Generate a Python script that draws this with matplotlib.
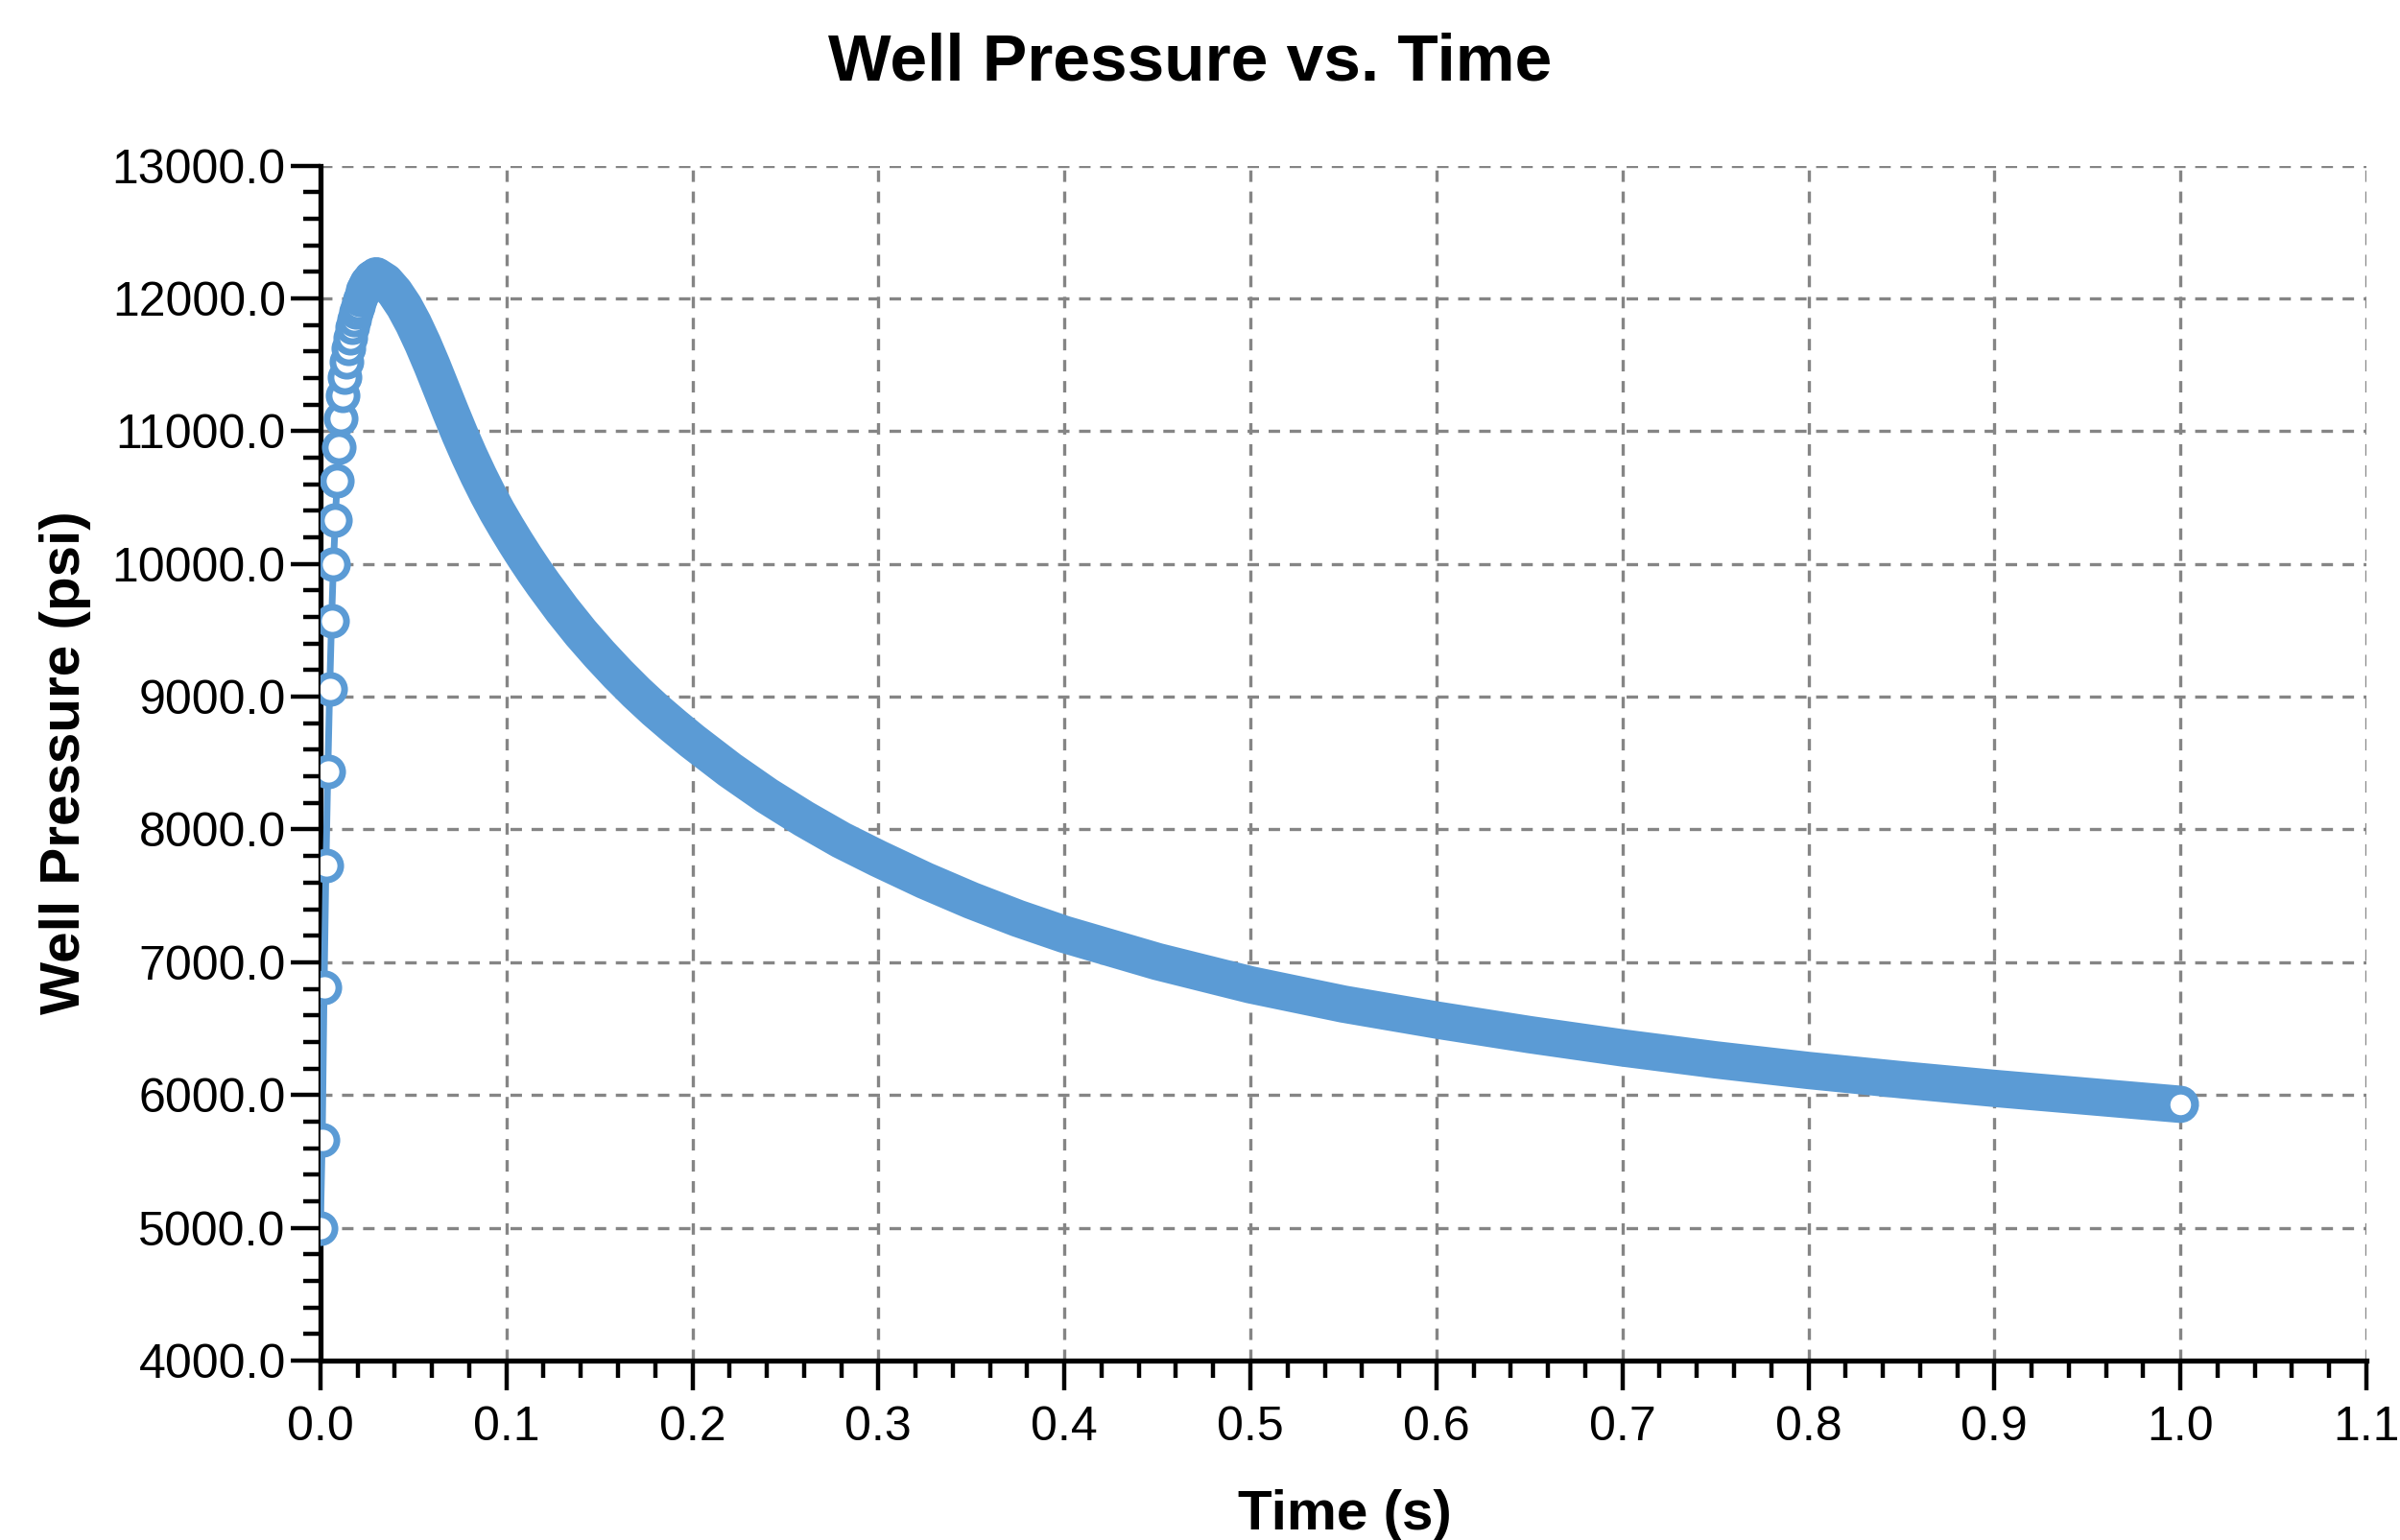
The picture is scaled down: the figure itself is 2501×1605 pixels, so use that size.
import matplotlib
matplotlib.use('Agg')
import matplotlib.pyplot as plt
from matplotlib.ticker import MultipleLocator, FormatStrFormatter

# pressure build-up, one sample per ms
rise_time = [0.000, 0.001, 0.002, 0.003, 0.004, 0.005, 0.006, 0.007, 0.008, 0.009,
             0.010, 0.011, 0.012, 0.013, 0.014, 0.015, 0.016, 0.017, 0.018, 0.019,
             0.020, 0.021, 0.022, 0.023, 0.024, 0.025, 0.026, 0.027, 0.028, 0.029, 0.030]
rise_pressure = [5000, 5660, 6810, 7730, 8440, 9060, 9570, 9995, 10330, 10630,
                 10880, 11095, 11270, 11410, 11525, 11625, 11705, 11780, 11840, 11895,
                 11945, 11990, 12030, 12065, 12095, 12120, 12140, 12155, 12165, 12170, 12170]

# decay after the peak (dense markers merge into a solid band)
decay_time = [0.030, 0.035, 0.040, 0.045, 0.050, 0.055, 0.060, 0.065, 0.070, 0.075,
              0.080, 0.085, 0.090, 0.095, 0.100, 0.105, 0.110, 0.115, 0.120, 0.130,
              0.140, 0.150, 0.160, 0.170, 0.180, 0.190, 0.200, 0.220, 0.240, 0.260,
              0.280, 0.300, 0.325, 0.350, 0.375, 0.400, 0.450, 0.500, 0.550, 0.600,
              0.650, 0.700, 0.750, 0.800, 0.850, 0.900, 0.950, 1.000]
decay_pressure = [12170, 12125, 12045, 11940, 11810, 11660, 11495, 11320, 11145, 10975,
                  10815, 10665, 10525, 10395, 10275, 10160, 10050, 9945, 9845, 9655,
                  9480, 9320, 9170, 9030, 8900, 8780, 8665, 8450, 8255, 8080,
                  7920, 7780, 7615, 7465, 7330, 7210, 7005, 6830, 6685, 6565,
                  6455, 6355, 6265, 6185, 6115, 6050, 5990, 5930]

blue = '#5b9bd5'
plt.rcParams['font.family'] = ['Liberation Sans', 'DejaVu Sans']
plt.rcParams['lines.scale_dashes'] = False

fig = plt.figure(figsize=(25.01, 16.05), dpi=100)
ax = fig.add_axes([0.1335, 0.1165, 0.8525, 0.776])

ax.plot(rise_time, rise_pressure, '-o', color=blue, lw=5, ms=21, mew=5,
        mfc='white', mec=blue, zorder=3)
ax.plot(decay_time, decay_pressure, '-', color=blue, lw=28,
        solid_capstyle='round', solid_joinstyle='round', zorder=4)
ax.plot(decay_time[-1:], decay_pressure[-1:], 'o', ms=20, mew=4.5,
        mfc='white', mec=blue, zorder=5)

ax.set_xlim(0, 1.1)
ax.set_ylim(4000, 13000)
ax.xaxis.set_major_locator(MultipleLocator(0.1))
ax.xaxis.set_minor_locator(MultipleLocator(0.02))
ax.yaxis.set_major_locator(MultipleLocator(1000))
ax.yaxis.set_minor_locator(MultipleLocator(200))
ax.xaxis.set_major_formatter(FormatStrFormatter('%.1f'))
ax.yaxis.set_major_formatter(FormatStrFormatter('%.1f'))

ax.spines['top'].set_visible(False)
ax.spines['right'].set_visible(False)
ax.spines['left'].set_linewidth(3.8)
ax.spines['bottom'].set_linewidth(3.8)
ax.tick_params(which='major', length=22, width=3.2, labelsize=36, color='black')
ax.tick_params(which='minor', length=13, width=3.2, color='black')
ax.tick_params(axis='y', which='major', pad=4)
ax.tick_params(axis='x', which='major', pad=12)

ax.set_axisbelow(True)
ax.grid(True, which='major', color='#858585', lw=2.4, linestyle=(0, (8.6, 7.2)))

fig.text(0.496, 0.948, 'Well Pressure vs. Time', ha='center', va='baseline',
         fontsize=50, fontweight='bold')
fig.text(0.5602, 0.007, 'Time (s)', ha='center', va='baseline',
         fontsize=42, fontweight='bold')
fig.text(0.027, 0.505, 'Well Pressure (psi)', ha='center', va='center',
         rotation=90, fontsize=42, fontweight='bold')

fig.savefig('out.png', dpi=100)
